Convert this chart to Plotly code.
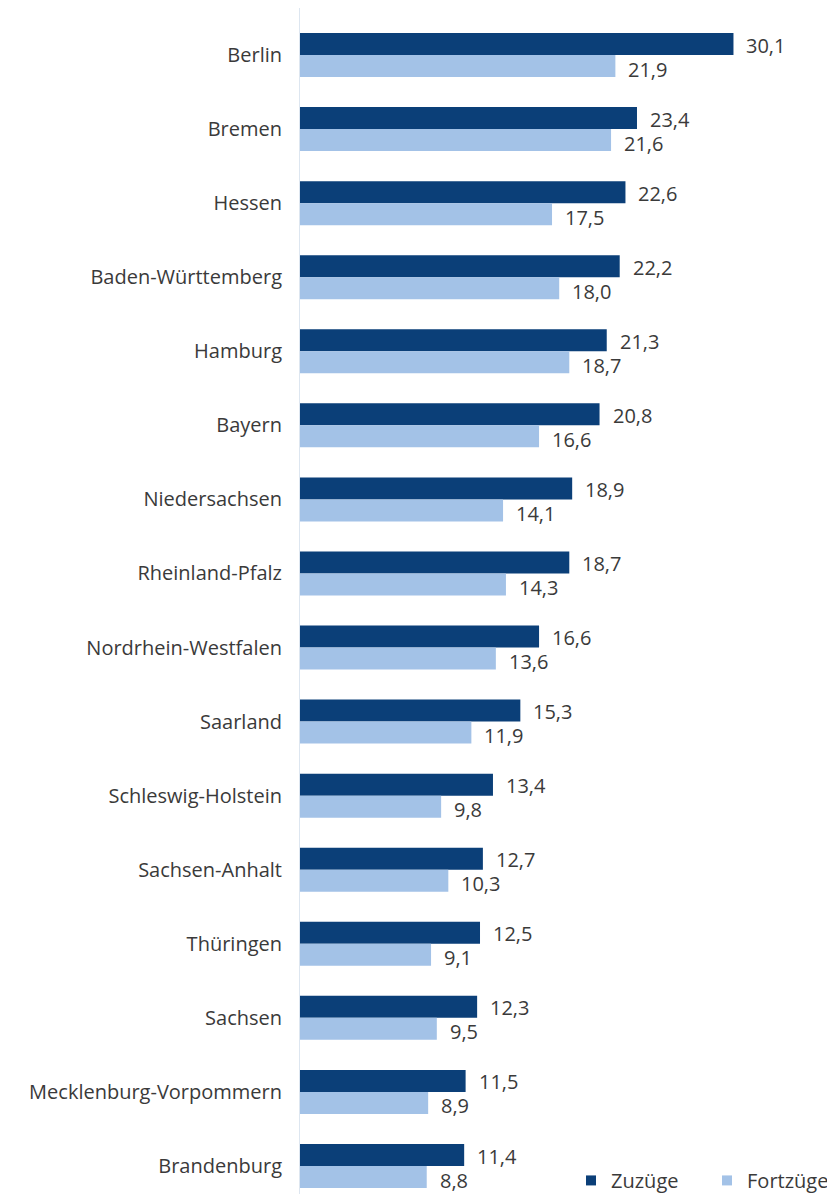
import plotly.graph_objects as go

laender = ["Berlin", "Bremen", "Hessen", "Baden-Württemberg", "Hamburg", "Bayern",
           "Niedersachsen", "Rheinland-Pfalz", "Nordrhein-Westfalen", "Saarland",
           "Schleswig-Holstein", "Sachsen-Anhalt", "Thüringen", "Sachsen",
           "Mecklenburg-Vorpommern", "Brandenburg"]
zuzuege = [30.1, 23.4, 22.6, 22.2, 21.3, 20.8, 18.9, 18.7, 16.6, 15.3, 13.4, 12.7, 12.5, 12.3, 11.5, 11.4]
fortzuege = [21.9, 21.6, 17.5, 18.0, 18.7, 16.6, 14.1, 14.3, 13.6, 11.9, 9.8, 10.3, 9.1, 9.5, 8.9, 8.8]

DARK = "#0b3f78"
LIGHT = "#a3c2e7"
FONT = "Open Sans"
TXT = "#3a3a3a"

def de(v):
    return f"{v:.1f}".replace(".", ",")

fig = go.Figure()
fig.add_trace(go.Bar(y=laender, x=zuzuege, orientation="h", marker=dict(color=DARK, line_width=0),
                     name="Zuzüge", showlegend=False, offsetgroup="z"))
fig.add_trace(go.Bar(y=laender, x=fortzuege, orientation="h", marker=dict(color=LIGHT, line_width=0),
                     name="Fortzüge", showlegend=False, offsetgroup="f"))
# legend entries with small square symbols
fig.add_trace(go.Scatter(x=[None], y=[None], mode="markers", name="Zuzüge",
                         marker=dict(symbol="square", size=10, color=DARK)))
fig.add_trace(go.Scatter(x=[None], y=[None], mode="markers", name="Fortzüge",
                         marker=dict(symbol="square", size=10, color=LIGHT)))

annotations = []
for cat, zv, fv in zip(laender, zuzuege, fortzuege):
    annotations.append(dict(x=zv, y=cat, text=de(zv), showarrow=False, xanchor="left",
                            xshift=11, yshift=10, font=dict(family=FONT, size=20, color=TXT)))
    annotations.append(dict(x=fv, y=cat, text=de(fv), showarrow=False, xanchor="left",
                            xshift=11, yshift=-14, font=dict(family=FONT, size=20, color=TXT)))

fig.update_layout(
    width=827, height=1186,
    margin=dict(l=292, r=0, t=0, b=0, autoexpand=False),
    paper_bgcolor="white", plot_bgcolor="white",
    barmode="group", bargap=0.406, bargroupgap=0,
    font=dict(family=FONT, size=20, color=TXT),
    annotations=annotations,
    showlegend=True,
    legend=dict(orientation="h", x=1.015, xanchor="right", y=-0.005, yanchor="bottom",
                font=dict(family=FONT, size=20, color=TXT), bgcolor="rgba(0,0,0,0)",
                itemwidth=30, entrywidth=91, tracegroupgap=0),
    xaxis=dict(range=[0, 37.15], visible=False, showgrid=False, zeroline=False),
    yaxis=dict(categoryorder="array", categoryarray=laender, range=[15.378, -0.6345],
               showgrid=False, zeroline=False, showline=True, linecolor="#dde6f0", linewidth=1,
               ticks="", ticklabelstandoff=13, tickfont=dict(family=FONT, size=20, color=TXT)),
)

fig.write_html("out.html")
